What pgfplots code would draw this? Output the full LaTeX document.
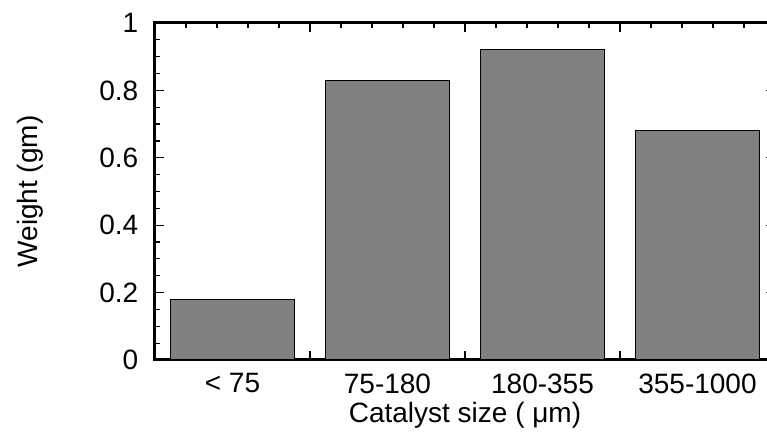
\documentclass[border=0pt]{standalone}
\usepackage{fontspec}
\setmainfont{Liberation Sans}
\usepackage{pgfplots}
\pgfplotsset{compat=1.18}
\usetikzlibrary{calc}

\begin{document}
\fontsize{14}{16}\selectfont
\begin{tikzpicture}
\begin{axis}[
	scale only axis,
	width=310pt, height=168.5pt,
	xmin=0.5, xmax=4.5, ymin=0, ymax=1,
	axis line style={line width=1.5pt},
	tick style={line width=0.6pt, black},
	tick align=inside,
	major tick length=4.5pt,
	minor tick length=2.5pt,
	/pgf/number format/assume math mode=true,
	xtick={1.5,2.5,3.5},
	xticklabels={},
	minor xtick={0.5,0.7,...,4.5},
	extra x ticks={1,2,3,4},
	extra x tick labels={< 75,75-180,180-355,355-1000},
	extra x tick style={major tick length=0pt, tick style={draw=none}},
	xticklabel style={yshift=-2pt},
	ytick={0,0.2,...,1},
	minor y tick num=3,
	yticklabel style={xshift=-3.5pt},
	xlabel={Catalyst size ( μm)},
	ylabel={Weight (gm)},
	xlabel style={at={(axis description cs:0.5,-0.165)}, anchor=center},
	ylabel style={at={(axis description cs:-0.2016,0.5)}, anchor=center},
]
\addplot[ybar, bar width=0.8, fill=gray, draw=black, line width=0.5pt]
	coordinates {(1,0.18) (2,0.83) (3,0.92) (4,0.68)};
\end{axis}
\pgfresetboundingbox
\path[use as bounding box] ($(current axis.south west)+(-77.5pt,-36pt)$) rectangle ($(current axis.south west)+(306pt,180pt)$);
\end{tikzpicture}
\end{document}
